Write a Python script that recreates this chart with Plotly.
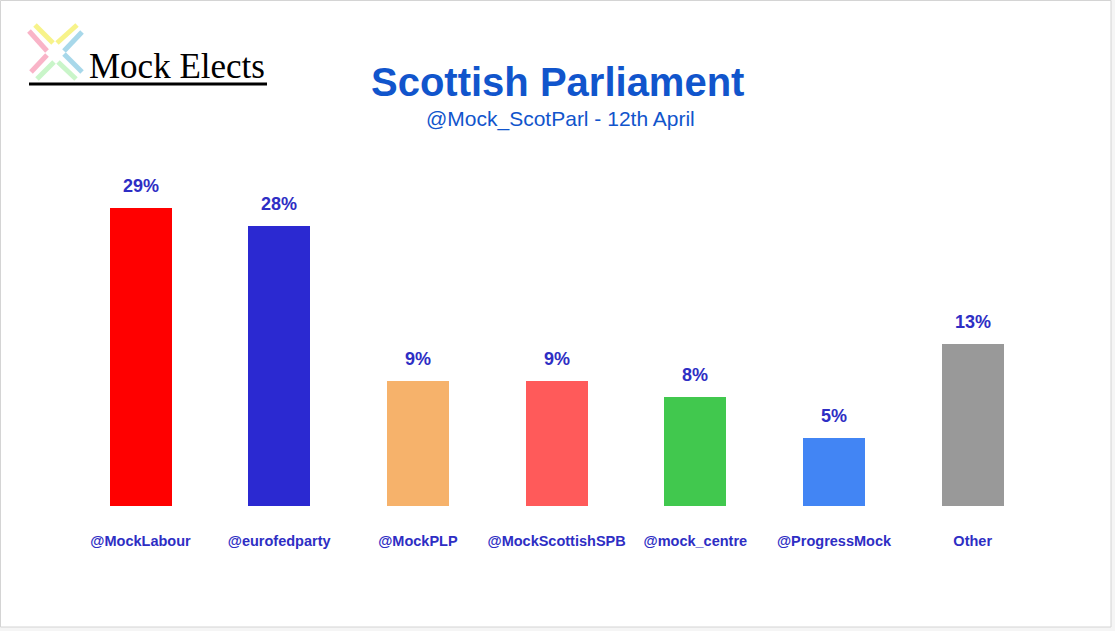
import plotly.graph_objects as go

# ---- data ----
categories = ["@MockLabour", "@eurofedparty", "@MockPLP", "@MockScottishSPB",
              "@mock_centre", "@ProgressMock", "Other"]
share_labels = ["29%", "28%", "9%", "9%", "8%", "5%", "13%"]
bar_values = [29.0, 27.2, 12.2, 12.2, 10.6, 6.6, 15.8]   # bar lengths as drawn
bar_colors = ["#ff0000", "#2b29d1", "#f6b26b", "#ff5a5a", "#41c84e", "#4285f4", "#999999"]

title_text = "Scottish Parliament"
subtitle_text = "@Mock_ScotParl - 12th April"
logo_text = "Mock Elects"

W, H = 1115, 631
BOTTOM = 125           # plot area bottom at pixel 506
PH = H - BOTTOM
LABEL_BLUE = "#2e2ec4"
TITLE_BLUE = "#1155cc"


def px(x):
    return x / W


def py(y):
    return (PH - y) / PH


fig = go.Figure()
fig.add_trace(go.Bar(
    x=categories, y=bar_values, marker=dict(color=bar_colors, line=dict(width=0)),
    width=0.447, hoverinfo="skip", showlegend=False,
))

# data labels above bars
for c, v, t in zip(categories, bar_values, share_labels):
    fig.add_annotation(x=c, y=v, text=f"<b>{t}</b>", showarrow=False, yanchor="bottom",
                       yshift=10, font=dict(family="Arial, Liberation Sans", size=18, color=LABEL_BLUE))

shapes = []
# outer frame
shapes.append(dict(type="rect", xref="paper", yref="paper", x0=px(0.5), x1=px(1111), y0=py(627), y1=py(0.5),
                   line=dict(color="#d4d4d4", width=1), fillcolor="white", layer="below"))
# logo X strokes
strokes = [
    ("#f9b4c8", [(29, 31), (47, 51)]), ("#f9b4c8", [(47, 55), (31, 72)]),
    ("#f7f38a", [(35, 25), (53, 43)]), ("#f7f38a", [(57, 43), (77, 25)]),
    ("#a8d8ea", [(82, 32), (64, 51)]), ("#a8d8ea", [(64, 54), (82, 72)]),
    ("#c9f5c9", [(37, 79), (54, 62)]), ("#c9f5c9", [(58, 62), (76, 79)]),
]
for col, ((x0, y0), (x1, y1)) in strokes:
    shapes.append(dict(type="line", xref="paper", yref="paper", x0=px(x0), y0=py(y0), x1=px(x1), y1=py(y1),
                       line=dict(color=col, width=5)))
# logo underline
shapes.append(dict(type="line", xref="paper", yref="paper", x0=px(29), x1=px(267), y0=py(84), y1=py(84),
                   line=dict(color="black", width=3)))

annotations = [
    dict(text=logo_text, xref="paper", yref="paper", x=px(177), y=py(66), xanchor="center", yanchor="middle",
         showarrow=False, font=dict(family="Liberation Serif, Times New Roman", size=35, color="black")),
    dict(text=f"<b>{title_text}</b>", xref="paper", yref="paper", x=px(557), y=py(82), xanchor="center",
         yanchor="middle", showarrow=False, font=dict(family="Arial, Liberation Sans", size=40, color=TITLE_BLUE)),
    dict(text=subtitle_text, xref="paper", yref="paper", x=px(560), y=py(119), xanchor="center",
         yanchor="middle", showarrow=False, font=dict(family="Arial, Liberation Sans", size=21, color=TITLE_BLUE)),
]
for a in annotations:
    fig.add_annotation(**a)

# category positions: first centre at 140.5 px, step 138.7 px
c0, step = 140.5, 138.7
fig.update_layout(
    width=W, height=H,
    margin=dict(l=0, r=0, t=0, b=BOTTOM, pad=0),
    paper_bgcolor="#f5f5f5", plot_bgcolor="rgba(0,0,0,0)",
    shapes=shapes,
    bargap=0,
    xaxis=dict(type="category", range=[-c0 / step, (W - c0) / step], showgrid=False, zeroline=False,
               showline=False, ticks="", ticklabelstandoff=24, fixedrange=True,
               tickfont=dict(family="Arial, Liberation Sans", size=14.5, color=LABEL_BLUE, weight="bold")),
    yaxis=dict(range=[0, PH / 10.28], visible=False, fixedrange=True),
)

fig.write_html("out.html", config={"displayModeBar": False},
               post_script="document.body.style.margin='0';document.body.style.overflow='hidden';")
